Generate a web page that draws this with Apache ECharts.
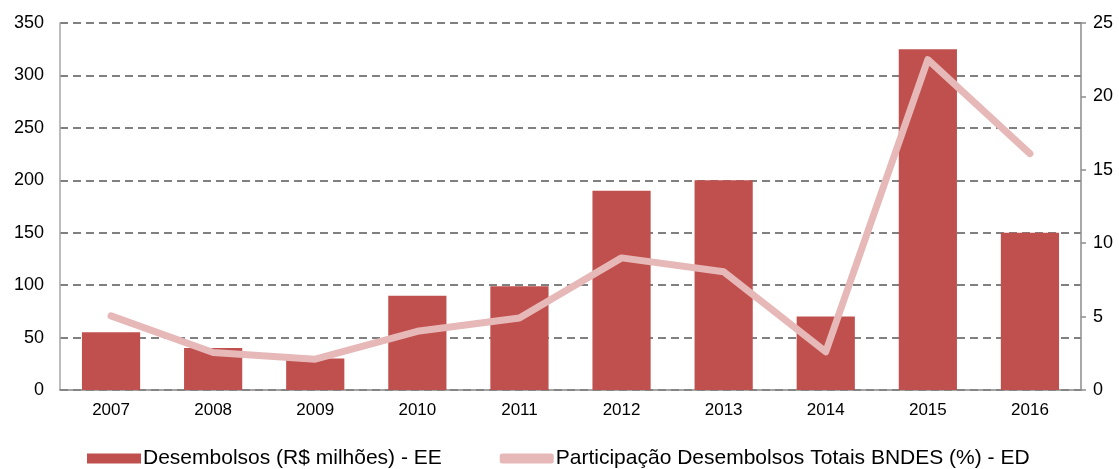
<!DOCTYPE html>
<html><head><meta charset="utf-8">
<script src="https://cdn.jsdelivr.net/npm/echarts@6/dist/echarts.min.js"></script>
<style>html,body{margin:0;padding:0;background:#fff}#c{width:1119px;height:469px}</style>
</head><body><div id="c"></div>
<script>
const categories = ['2007','2008','2009','2010','2011','2012','2013','2014','2015','2016'];
const desembolsos = [55, 40, 30, 90, 99, 190, 200, 70, 325, 150];
const participacao = [5.05, 2.55, 2.1, 4.0, 4.9, 9.0, 8.05, 2.6, 22.5, 16.1];
const leftTicks = {min: 0, max: 350, interval: 50};
const rightTicks = {min: 0, max: 25, interval: 5};

const chart = echarts.init(document.getElementById('c'), null, {renderer: 'canvas'});
const font = 'Liberation Sans, Arial, sans-serif';
chart.setOption({
  animation: false,
  grid: {left: 60, right: 38, top: 23, bottom: 79, containLabel: false},
  legend: {
    top: 448, left: 87, padding: 0,
    itemWidth: 54, itemHeight: 10, itemGap: 58,
    textStyle: {fontFamily: font, fontSize: 21, color: '#000', padding: [0,0,0,-3]},
    data: [
      {name: 'Desembolsos (R$ milhões) - EE', icon: 'rect'},
      {name: 'Participação Desembolsos Totais BNDES (%) - ED', icon: 'roundRect'}
    ]
  },
  xAxis: {
    type: 'category', data: categories,
    axisLine: {lineStyle: {color: '#868686', width: 1.5}},
    axisTick: {show: false},
    axisLabel: {fontFamily: font, fontSize: 17, color: '#000', margin: 12}
  },
  yAxis: [
    {type: 'value', min: leftTicks.min, max: leftTicks.max, interval: leftTicks.interval,
     axisLine: {show: true, lineStyle: {color: '#a6a6a6', width: 1.5}},
     axisTick: {show: false},
     axisLabel: {fontFamily: font, fontSize: 18, color: '#000', margin: 16},
     splitLine: {lineStyle: {type: [8, 5], color: '#808080', width: 2}}},
    {type: 'value', min: rightTicks.min, max: rightTicks.max, interval: rightTicks.interval,
     position: 'right',
     axisLine: {show: true, lineStyle: {color: '#8c8c8c', width: 1.5}},
     axisTick: {show: true, inside: false, length: 5, lineStyle: {color: '#8c8c8c', width: 1.5}},
     axisLabel: {fontFamily: font, fontSize: 18, color: '#000', margin: 12},
     splitLine: {show: false}}
  ],
  series: [
    {name: 'Desembolsos (R$ milhões) - EE', type: 'bar', data: desembolsos, yAxisIndex: 0,
     barWidth: '57%', itemStyle: {color: '#C0504D'}},
    {name: 'Participação Desembolsos Totais BNDES (%) - ED', type: 'line', data: participacao, yAxisIndex: 1,
     symbol: 'none', z: 5,
     lineStyle: {color: '#E6B9B8', width: 7, cap: 'round', join: 'round'},
     itemStyle: {color: '#E6B9B8'}}
  ]
});
</script></body></html>
